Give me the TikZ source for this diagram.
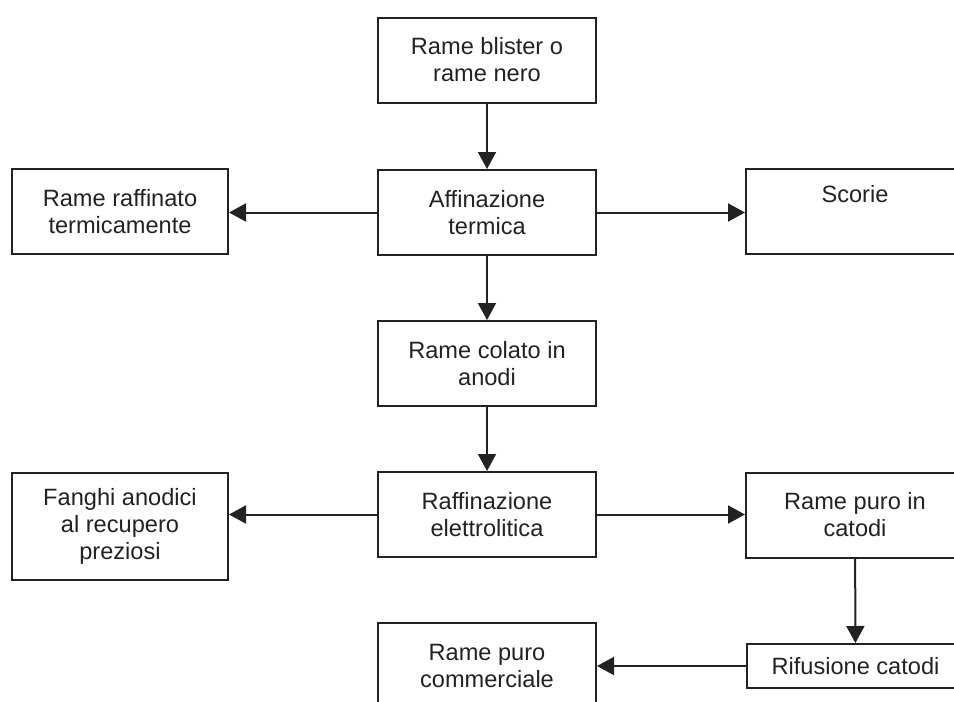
\documentclass[tikz,border=0pt]{standalone}
\usepackage{fontspec}
\setmainfont{Liberation Sans}
\usetikzlibrary{arrows.meta}
\definecolor{ink}{HTML}{222222}
\begin{document}
\begin{tikzpicture}[x=1pt,y=-1pt,
  box/.style={draw=ink,line width=2pt,align=center,text=ink,inner sep=0pt,
    minimum width=218pt,minimum height=85pt,
    font=\fontsize{23.6}{27}\selectfont},
  conn/.style={draw=ink,line width=2pt,-{Triangle[length=17pt,width=18pt]}}]
\useasboundingbox (0,0) rectangle (954,702);
\clip (0,0) rectangle (954,702);
\node[box] (top) at (487,60) {Rame blister o\\rame nero};
\node[box] (aff) at (487,212.5) {Affinazione\\termica};
\node[box,minimum width=216pt] (term) at (120,211.5) {Rame raffinato\\termicamente};
\node[box] (scorie) at (855,211.5) {Scorie\\\strut};
\node[box] (colato) at (487,363.5) {Rame colato in\\anodi};
\node[box] (elettro) at (487,514.5) {Raffinazione\\elettrolitica};
\node[box,minimum width=216pt,minimum height=107pt] (fanghi) at (120,526.5) {Fanghi anodici\\al recupero\\preziosi};
\node[box] (catodi) at (855,515) {Rame puro in\\catodi};
\node[box,minimum width=217pt,minimum height=44pt] (rifus) at (855.5,666) {Rifusione catodi};
\node[box] (comm) at (487,665.5) {Rame puro\\commerciale};
\draw[conn] (top) -- (aff);
\draw[conn] (aff.west) -- (aff.west -| term.east);
\draw[conn] (aff.east) -- (aff.east -| scorie.west);
\draw[conn] (aff) -- (colato);
\draw[conn] (colato) -- (elettro);
\draw[conn] (elettro.west) -- (elettro.west -| fanghi.east);
\draw[conn] (elettro.east) -- (elettro.east -| catodi.west);
\draw[conn] (catodi) -- (rifus);
\draw[conn] (rifus.west) -- (rifus.west -| comm.east);
\end{tikzpicture}
\end{document}
